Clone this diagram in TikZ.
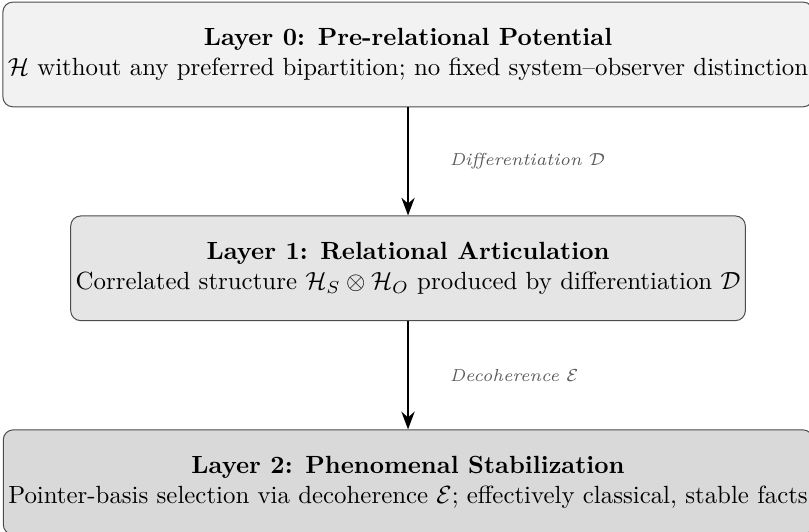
\documentclass[tikz,border=0pt]{standalone}
\usepackage{amsmath,amssymb}
\usetikzlibrary{arrows.meta,positioning}
\tikzset{
  layer/.style={draw=black!70, rounded corners=4pt, align=center, inner xsep=2pt, minimum height=1.48cm},
  potential/.style={layer, fill=gray!10},
  relational/.style={layer, fill=gray!20},
  phenomenal/.style={layer, fill=gray!30},
  arrow/.style={-{Stealth[length=2.5mm]}, thick},
  edgelabel/.style={font=\scriptsize\itshape, text=black!65, right=4.6mm}
}

\begin{document}
\begin{tikzpicture}[node distance=1.53cm]
\useasboundingbox (-5.77,0.77) rectangle (5.67,-6.74);
\node[potential] (pot) at (0,0) {\textbf{Layer 0: Pre-relational Potential}\\$\mathcal{H}$ without any preferred bipartition; no fixed system--observer distinction};
\node[relational, below=of pot] (rel) {\textbf{Layer 1: Relational Articulation}\\Correlated structure $\mathcal{H}_S \otimes \mathcal{H}_O$ produced by differentiation $\mathcal{D}$};
\node[phenomenal, below=of rel] (phen) {\textbf{Layer 2: Phenomenal Stabilization}\\Pointer-basis selection via decoherence $\mathcal{E}$; effectively classical, stable facts};
\draw[arrow] (pot) -- node[edgelabel]{Differentiation $\mathcal{D}$} (rel);
\draw[arrow] (rel) -- node[edgelabel]{Decoherence $\mathcal{E}$} (phen);
\end{tikzpicture}
\end{document}
